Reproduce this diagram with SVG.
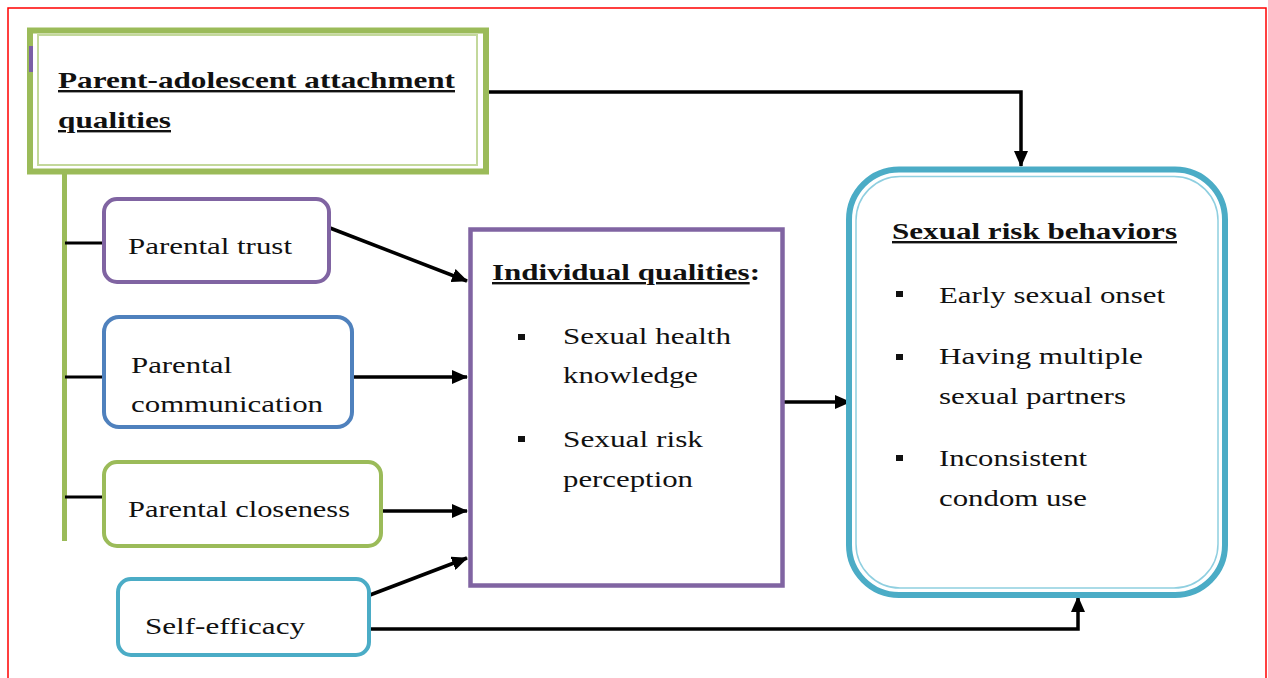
<svg xmlns="http://www.w3.org/2000/svg" width="1268" height="678" viewBox="0 0 1268 678">
<defs>
<marker id="arr" markerUnits="userSpaceOnUse" markerWidth="16" markerHeight="14" refX="15" refY="7" orient="auto">
<path d="M0,0 L16,7 L0,14 z" fill="#000"/>
</marker>
<style>
.t{font-family:"Liberation Serif","Times New Roman",serif;font-size:24px;fill:#111;}
.b{font-weight:bold;}
.u{text-decoration:underline;}
.c{fill:none;stroke:#000;stroke-width:3.5;}
.g{fill:#9bbb59;}
</style>
</defs>
<rect x="0" y="0" width="1268" height="678" fill="#fff"/>
<rect x="8" y="8" width="1258" height="700" fill="none" stroke="#ff0000" stroke-width="1.5"/>

<g id="spine">
<rect x="62" y="172" width="5" height="369" class="g"/>
<line x1="65" y1="243" x2="103" y2="243" stroke="#000" stroke-width="3.2"/>
<line x1="65" y1="377" x2="103" y2="377" stroke="#000" stroke-width="3.2"/>
<line x1="65" y1="497" x2="103" y2="497" stroke="#000" stroke-width="3.2"/>
</g>

<g id="connectors">
<polyline class="c" points="486,92 1021,92 1021,166" marker-end="url(#arr)"/>
<line class="c" x1="330" y1="228" x2="467" y2="281" marker-end="url(#arr)"/>
<line class="c" x1="353" y1="377" x2="467" y2="377" marker-end="url(#arr)"/>
<line class="c" x1="383" y1="511" x2="467" y2="511" marker-end="url(#arr)"/>
<line class="c" x1="370" y1="595" x2="467" y2="558" marker-end="url(#arr)"/>
<polyline class="c" points="370,629 1078,629 1078,597" marker-end="url(#arr)"/>
<line class="c" x1="784" y1="402" x2="850" y2="402" marker-end="url(#arr)"/>
</g>

<g id="parent-adolescent">
<rect x="30" y="30.5" width="456" height="141" fill="#fff" stroke="#9bbb59" stroke-width="6"/>
<rect x="38" y="35" width="439" height="130" fill="none" stroke="#c3d89b" stroke-width="2"/>
<rect x="29" y="46" width="4" height="26" fill="#7b5fa6"/>
<text class="t b u" x="58" y="88" textLength="397" lengthAdjust="spacingAndGlyphs">Parent-adolescent attachment</text>
<text class="t b u" x="58" y="128" textLength="113" lengthAdjust="spacingAndGlyphs">qualities</text>
</g>

<g id="parental-trust">
<rect x="104" y="199" width="225" height="83" rx="13" fill="#fff" stroke="#8064a2" stroke-width="4"/>
<text class="t" x="128" y="254" textLength="164" lengthAdjust="spacingAndGlyphs">Parental trust</text>
</g>

<g id="parental-communication">
<rect x="104" y="317" width="248" height="110" rx="15" fill="#fff" stroke="#4f81bd" stroke-width="4"/>
<text class="t" x="131" y="373" textLength="101" lengthAdjust="spacingAndGlyphs">Parental</text>
<text class="t" x="131" y="412" textLength="192" lengthAdjust="spacingAndGlyphs">communication</text>
</g>

<g id="parental-closeness">
<rect x="104" y="462" width="277" height="84" rx="13" fill="#fff" stroke="#9bbb59" stroke-width="4"/>
<text class="t" x="128" y="517" textLength="222" lengthAdjust="spacingAndGlyphs">Parental closeness</text>
</g>

<g id="self-efficacy">
<rect x="118" y="579" width="251" height="76" rx="13" fill="#fff" stroke="#4bacc6" stroke-width="4"/>
<text class="t" x="145" y="634" textLength="160" lengthAdjust="spacingAndGlyphs">Self-efficacy</text>
</g>

<g id="individual-qualities">
<rect x="470.5" y="229.5" width="312" height="356" fill="#fff" stroke="#8064a2" stroke-width="4.5"/>
<text class="t b" x="492" y="280" textLength="268" lengthAdjust="spacingAndGlyphs"><tspan class="u">Individual qualities</tspan>:</text>
<rect x="518" y="334" width="7" height="6" fill="#111"/>
<text class="t" x="563" y="344" textLength="168" lengthAdjust="spacingAndGlyphs">Sexual health</text>
<text class="t" x="563" y="383" textLength="135" lengthAdjust="spacingAndGlyphs">knowledge</text>
<rect x="518" y="436" width="7" height="6" fill="#111"/>
<text class="t" x="563" y="447" textLength="140" lengthAdjust="spacingAndGlyphs">Sexual risk</text>
<text class="t" x="563" y="487" textLength="130" lengthAdjust="spacingAndGlyphs">perception</text>
</g>

<g id="sexual-risk-behaviors">
<rect x="849" y="169.5" width="376" height="425.5" rx="50" fill="#fff" stroke="#4bacc6" stroke-width="6"/>
<rect x="856" y="176.5" width="362" height="411.5" rx="44" fill="none" stroke="#8fcfe0" stroke-width="1.5"/>
<text class="t b u" x="892" y="239" textLength="285" lengthAdjust="spacingAndGlyphs">Sexual risk behaviors</text>
<rect x="896" y="291" width="7" height="6" fill="#111"/>
<text class="t" x="939" y="303" textLength="226" lengthAdjust="spacingAndGlyphs">Early sexual onset</text>
<rect x="896" y="354" width="7" height="6" fill="#111"/>
<text class="t" x="939" y="364" textLength="204" lengthAdjust="spacingAndGlyphs">Having multiple</text>
<text class="t" x="939" y="404" textLength="187" lengthAdjust="spacingAndGlyphs">sexual partners</text>
<rect x="896" y="455" width="7" height="6" fill="#111"/>
<text class="t" x="939" y="466" textLength="148" lengthAdjust="spacingAndGlyphs">Inconsistent</text>
<text class="t" x="939" y="506" textLength="148" lengthAdjust="spacingAndGlyphs">condom use</text>
</g>
</svg>
